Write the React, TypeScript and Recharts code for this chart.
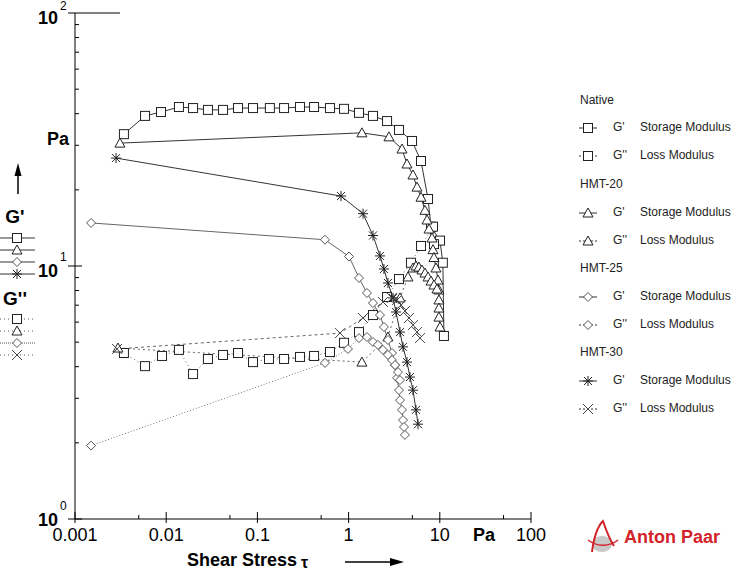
import React from 'react';
import { LineChart, Line, XAxis, YAxis } from 'recharts';

// shear stress [Pa] / modulus [Pa]
const nativeStorage = [
  { x: 0.00344, y: 33.2 }, { x: 0.00586, y: 39.2 }, { x: 0.00877, y: 40.6 }, { x: 0.0138, y: 42.5 },
  { x: 0.0197, y: 42.1 }, { x: 0.0287, y: 41.4 }, { x: 0.042, y: 41.4 }, { x: 0.0613, y: 42.1 },
  { x: 0.0895, y: 42.1 }, { x: 0.137, y: 42.1 }, { x: 0.196, y: 42.1 }, { x: 0.293, y: 42.5 },
  { x: 0.418, y: 42.5 }, { x: 0.625, y: 42.1 }, { x: 0.891, y: 41.8 }, { x: 1.3, y: 40.3 },
  { x: 1.85, y: 39.2 }, { x: 2.64, y: 37.4 }, { x: 3.57, y: 34.5 }, { x: 4.96, y: 31.2 },
  { x: 6.22, y: 26.0 }, { x: 7.43, y: 18.4 }, { x: 8.01, y: 14.3 }, { x: 10.05, y: 12.6 },
  { x: 10.8, y: 10.3 }, { x: 11.1, y: 5.29 },
];
const nativeLoss = [
  { x: 0.00344, y: 4.53 }, { x: 0.00586, y: 4.02 }, { x: 0.009, y: 4.41 }, { x: 0.0138, y: 4.66 },
  { x: 0.0197, y: 3.74 }, { x: 0.0287, y: 4.29 }, { x: 0.042, y: 4.45 }, { x: 0.0613, y: 4.53 },
  { x: 0.0895, y: 4.17 }, { x: 0.134, y: 4.29 }, { x: 0.196, y: 4.29 }, { x: 0.293, y: 4.37 },
  { x: 0.418, y: 4.41 }, { x: 0.625, y: 4.57 }, { x: 0.891, y: 4.97 }, { x: 1.3, y: 5.48 },
  { x: 1.85, y: 6.4 }, { x: 2.64, y: 7.54 }, { x: 3.57, y: 8.88 }, { x: 4.83, y: 10.3 },
  { x: 6.22, y: 12.0 }, { x: 8.42, y: 14.3 }, { x: 8.63, y: 12.2 },
];
const hmt20Storage = [
  { x: 0.00311, y: 30.6 }, { x: 1.4, y: 33.6 }, { x: 2.77, y: 32.4 }, { x: 3.85, y: 29.0 },
  { x: 4.37, y: 25.3 }, { x: 5.08, y: 22.9 }, { x: 5.62, y: 20.5 }, { x: 6.22, y: 18.7 },
  { x: 6.88, y: 16.6 }, { x: 7.24, y: 15.2 }, { x: 7.62, y: 14.0 }, { x: 8.21, y: 12.9 },
  { x: 8.42, y: 11.6 }, { x: 8.63, y: 10.8 }, { x: 9.08, y: 9.82 }, { x: 9.55, y: 8.8 },
  { x: 9.79, y: 8.04 }, { x: 9.79, y: 7.34 }, { x: 9.79, y: 6.82 }, { x: 9.79, y: 6.28 },
  { x: 10.05, y: 5.74 },
];
const hmt20Loss = [
  { x: 0.00296, y: 4.74 }, { x: 1.4, y: 4.17 }, { x: 2.7, y: 5.24 }, { x: 3.66, y: 7.48 },
  { x: 4.48, y: 9.05 }, { x: 5.08, y: 9.82 }, { x: 5.48, y: 10.0 }, { x: 5.9, y: 9.9 },
  { x: 6.38, y: 9.64 }, { x: 6.88, y: 9.38 }, { x: 7.43, y: 9.05 }, { x: 8.01, y: 8.72 },
  { x: 8.63, y: 8.41 }, { x: 9.31, y: 8.11 },
];
const hmt25Storage = [
  { x: 0.0015, y: 14.8 }, { x: 0.551, y: 12.7 }, { x: 1.01, y: 10.9 }, { x: 1.3, y: 8.97 },
  { x: 1.59, y: 7.82 }, { x: 1.85, y: 7.14 }, { x: 2.21, y: 6.4 }, { x: 2.44, y: 5.74 },
  { x: 2.7, y: 5.1 }, { x: 2.99, y: 4.53 }, { x: 3.23, y: 4.06 }, { x: 3.4, y: 3.61 },
  { x: 3.57, y: 3.23 }, { x: 3.66, y: 2.95 }, { x: 3.85, y: 2.7 }, { x: 3.95, y: 2.46 },
  { x: 4.05, y: 2.31 }, { x: 4.15, y: 2.15 },
];
const hmt25Loss = [
  { x: 0.0015, y: 1.95 }, { x: 0.551, y: 4.14 }, { x: 0.984, y: 4.7 }, { x: 1.3, y: 5.19 },
  { x: 1.59, y: 5.24 }, { x: 1.85, y: 5.01 }, { x: 2.1, y: 4.88 }, { x: 2.38, y: 4.66 },
  { x: 2.7, y: 4.45 }, { x: 2.99, y: 4.25 }, { x: 3.23, y: 4.06 }, { x: 3.48, y: 3.81 },
  { x: 3.66, y: 3.54 },
];
const hmt30Storage = [
  { x: 0.00282, y: 26.7 }, { x: 0.826, y: 18.9 }, { x: 1.44, y: 16.1 }, { x: 1.85, y: 13.2 },
  { x: 2.21, y: 10.96 }, { x: 2.44, y: 9.73 }, { x: 2.7, y: 8.57 }, { x: 3.07, y: 7.48 },
  { x: 3.31, y: 6.58 }, { x: 3.66, y: 5.48 }, { x: 3.95, y: 4.79 }, { x: 4.37, y: 4.17 },
  { x: 4.71, y: 3.64 }, { x: 5.08, y: 3.23 }, { x: 5.48, y: 2.7 }, { x: 5.77, y: 2.37 },
];
const hmt30Loss = [
  { x: 0.00289, y: 4.7 }, { x: 0.805, y: 5.43 }, { x: 1.44, y: 6.23 }, { x: 2.38, y: 7.21 },
  { x: 2.99, y: 7.48 }, { x: 3.4, y: 7.34 }, { x: 3.76, y: 7.01 }, { x: 4.15, y: 6.64 },
  { x: 4.59, y: 6.23 }, { x: 5.08, y: 5.84 }, { x: 5.62, y: 5.48 }, { x: 6.07, y: 5.19 },
];

const xTicks = [0.001, 0.005, 0.01, 0.05, 0.1, 0.5, 1, 5, 10, 50, 100];
const xMajor = [0.001, 0.01, 0.1, 1, 10, 100];
const xLabels = ['0.001', '0.01', '0.1', '1', '10', '100'];
const yTicks = [1, 2, 3, 4, 5, 6, 7, 8, 9, 10, 20, 30, 40, 50, 60, 70, 80, 90, 100];
const sampleNames = ['Native', 'HMT-20', 'HMT-25', 'HMT-30'];
const sampleShapes = ['square', 'triangle', 'diamond', 'star'];
const lossShapes = ['square', 'triangle', 'diamond', 'cross'];

const FONT = '"Liberation Sans", Arial, sans-serif';

const series = [
  { id: 'nG1', data: nativeStorage, shape: 'square', dash: undefined, color: '#333' },
  { id: 'nG2', data: nativeLoss, shape: 'square', dash: '1 3', color: '#666' },
  { id: 'a20G1', data: hmt20Storage, shape: 'triangle', dash: undefined, color: '#333' },
  { id: 'a20G2', data: hmt20Loss, shape: 'triangle', dash: '2 3', color: '#666' },
  { id: 'a25G1', data: hmt25Storage, shape: 'diamond', dash: undefined, color: '#666' },
  { id: 'a25G2', data: hmt25Loss, shape: 'diamond', dash: '1 2', color: '#777' },
  { id: 'a30G1', data: hmt30Storage, shape: 'star', dash: undefined, color: '#333' },
  { id: 'a30G2', data: hmt30Loss, shape: 'cross', dash: '3 3', color: '#666' },
];

function Marker({ shape, cx, cy, stroke = '#222' }: any) {
  if (cx == null || cy == null) return null;
  if (shape === 'square')
    return <rect x={cx - 4.5} y={cy - 4.5} width={9} height={9} fill="#fff" stroke={stroke} />;
  if (shape === 'triangle')
    return <polygon points={`${cx},${cy - 5} ${cx - 5},${cy + 4} ${cx + 5},${cy + 4}`} fill="#fff" stroke={stroke} />;
  if (shape === 'diamond')
    return <polygon points={`${cx},${cy - 4.5} ${cx + 4.5},${cy} ${cx},${cy + 4.5} ${cx - 4.5},${cy}`} fill="#fff" stroke="#555" />;
  if (shape === 'star')
    return (
      <g stroke={stroke}>
        <line x1={cx - 5} y1={cy} x2={cx + 5} y2={cy} />
        <line x1={cx} y1={cy - 5} x2={cx} y2={cy + 5} />
        <line x1={cx - 4} y1={cy - 4} x2={cx + 4} y2={cy + 4} />
        <line x1={cx - 4} y1={cy + 4} x2={cx + 4} y2={cy - 4} />
      </g>
    );
  return (
    <g stroke="#444">
      <line x1={cx - 5} y1={cy - 5} x2={cx + 5} y2={cy + 5} />
      <line x1={cx - 5} y1={cy + 5} x2={cx + 5} y2={cy - 5} />
    </g>
  );
}

const isMajor = (v: number) => Math.abs(Math.log10(v) - Math.round(Math.log10(v))) < 1e-6;

const YTick = ({ x, y, payload }: any) => {
  const v = payload.value;
  if (!isMajor(v)) return <line x1={x} x2={x + 4} y1={y} y2={y} stroke="#000" />;
  const exp = Math.round(Math.log10(v));
  const dy = exp === 0 ? 2 : 6;
  return (
    <g fontFamily={FONT}>
      <line x1={x - 7} x2={exp === 2 ? x + 45 : x + 7} y1={y} y2={y} stroke="#000" />
      <text x={58} y={y + dy} textAnchor="end" dominantBaseline="middle" fontSize={18} fontWeight="bold" fill="#000">10</text>
      <text x={60} y={Math.max(y + dy - 14, 7)} fontSize={12} dominantBaseline="middle" fill="#000">{exp}</text>
    </g>
  );
};

const XTick = ({ x, y, payload }: any) => {
  const v = payload.value;
  const i = xMajor.findIndex((m) => Math.abs(m - v) < 1e-9);
  if (i < 0) return <line x1={x} x2={x} y1={y - 4} y2={y} stroke="#000" />;
  return (
    <g fontFamily={FONT}>
      <line x1={x} x2={x} y1={y - 7} y2={y + 4} stroke="#000" />
      <text x={x} y={y + 17} textAnchor="middle" dominantBaseline="middle" fontSize={18} fill="#000">{xLabels[i]}</text>
    </g>
  );
};

function LegendSwatch({ x, y, shape, dash }: any) {
  return (
    <g>
      <line x1={x - 9} x2={x + 9} y1={y} y2={y} stroke="#333" strokeDasharray={dash} />
      <Marker shape={shape} cx={x} cy={y} />
    </g>
  );
}

export default function App() {
  const rightRows: any[] = [];
  sampleNames.forEach((name, i) => {
    rightRows.push({ kind: 'head', label: name });
    rightRows.push({ kind: 'item', shape: sampleShapes[i], g: "G'", label: 'Storage Modulus' });
    rightRows.push({ kind: 'item', shape: lossShapes[i], g: "G''", label: 'Loss Modulus', dash: '2 2' });
  });
  const rowY = [101, 128, 156, 185, 213, 241, 269, 297, 325, 353, 381, 409];

  return (
    <div style={{ position: 'relative', width: 742, height: 573, background: '#fff' }}>
      <style>{'body{margin:0}'}</style>
      <LineChart width={742} height={573} margin={{ top: 13, right: 211, bottom: 0, left: 0 }}>
        <XAxis
          type="number"
          dataKey="x"
          scale="log"
          domain={[0.001, 100]}
          allowDataOverflow
          ticks={xTicks}
          interval={0}
          height={54}
          tickSize={0}
          tickMargin={0}
          tick={<XTick />}
          axisLine={{ stroke: '#000' }}
          tickLine={false}
        />
        <YAxis
          type="number"
          dataKey="y"
          scale="log"
          domain={[1, 100]}
          allowDataOverflow
          ticks={yTicks}
          interval={0}
          width={75}
          tickSize={0}
          tickMargin={0}
          tick={<YTick />}
          axisLine={{ stroke: '#000' }}
          tickLine={false}
        />
        {series.map((s) => (
          <Line
            key={s.id}
            data={s.data}
            dataKey="y"
            type="linear"
            stroke={s.color}
            strokeWidth={1}
            strokeDasharray={s.dash}
            isAnimationActive={false}
            dot={(p: any) => <Marker key={`${s.id}-${p.index}`} shape={s.shape} cx={p.cx} cy={p.cy} />}
            activeDot={false}
          />
        ))}
      </LineChart>
      <svg
        width={742}
        height={573}
        style={{ position: 'absolute', left: 0, top: 0, pointerEvents: 'none' }}
        fontFamily={FONT}
      >
        {/* left side labels */}
        <text x={58} y={140} textAnchor="middle" dominantBaseline="middle" fontSize={18} fontWeight="bold">Pa</text>
        <line x1={18} x2={18} y1={194} y2={172} stroke="#000" strokeWidth={1.5} />
        <polygon points="18,163 14.5,176 21.5,176" fill="#000" />
        <text x={15} y={218} textAnchor="middle" dominantBaseline="middle" fontSize={19} fontWeight="bold">G'</text>
        {sampleShapes.map((sh, i) => (
          <g key={sh}>
            <line x1={0} x2={35} y1={238 + i * 12} y2={238 + i * 12} stroke="#333" />
            <Marker shape={sh} cx={17} cy={238 + i * 12} />
          </g>
        ))}
        <text x={15} y={300} textAnchor="middle" dominantBaseline="middle" fontSize={19} fontWeight="bold">G''</text>
        {lossShapes.map((sh, i) => (
          <g key={sh}>
            <line x1={0} x2={35} y1={319 + i * 12} y2={319 + i * 12} stroke="#555" strokeDasharray={i === 2 ? '1 1' : '1 3'} />
            <Marker shape={sh} cx={17} cy={319 + i * 12} />
          </g>
        ))}

        {/* x axis unit and title */}
        <text x={484} y={536} textAnchor="middle" dominantBaseline="middle" fontSize={18} fontWeight="bold">Pa</text>
        <text x={187} y={561} dominantBaseline="middle" fontSize={18} fontWeight="bold">Shear Stress</text>
        <text x={301} y={564} dominantBaseline="middle" fontSize={16} fontWeight="bold">τ</text>
        <line x1={345} x2={392} y1={562} y2={562} stroke="#000" strokeWidth={1.5} />
        <polygon points="404,562 390,558 390,566" fill="#000" />

        {/* right legend */}
        {rightRows.map((r, i) =>
          r.kind === 'head' ? (
            <text key={i} x={580} y={rowY[i]} dominantBaseline="middle" fontSize={12} fill="#222">{r.label}</text>
          ) : (
            <g key={i}>
              <LegendSwatch x={588} y={rowY[i]} shape={r.shape} dash={r.dash} />
              <text x={613} y={rowY[i]} dominantBaseline="middle" fontSize={12} fill="#222">{r.g}</text>
              <text x={640} y={rowY[i]} dominantBaseline="middle" fontSize={12} fill="#222">{r.label}</text>
            </g>
          )
        )}

        {/* logo */}
        <g>
          <ellipse cx={602} cy={544} rx={10} ry={8} fill="#c8c8c8" />
          <path d="M592,552 C594,536 598,526 603,521 C606,530 610,540 614,546" fill="none" stroke="#d2232a" strokeWidth={2} />
          <path d="M588,540 C596,546 608,548 618,540" fill="none" stroke="#d2232a" strokeWidth={1.5} />
          <text x={624} y={538} dominantBaseline="middle" fontSize={18} fontWeight="bold" fill="#d2232a">Anton Paar</text>
        </g>
      </svg>
    </div>
  );
}
